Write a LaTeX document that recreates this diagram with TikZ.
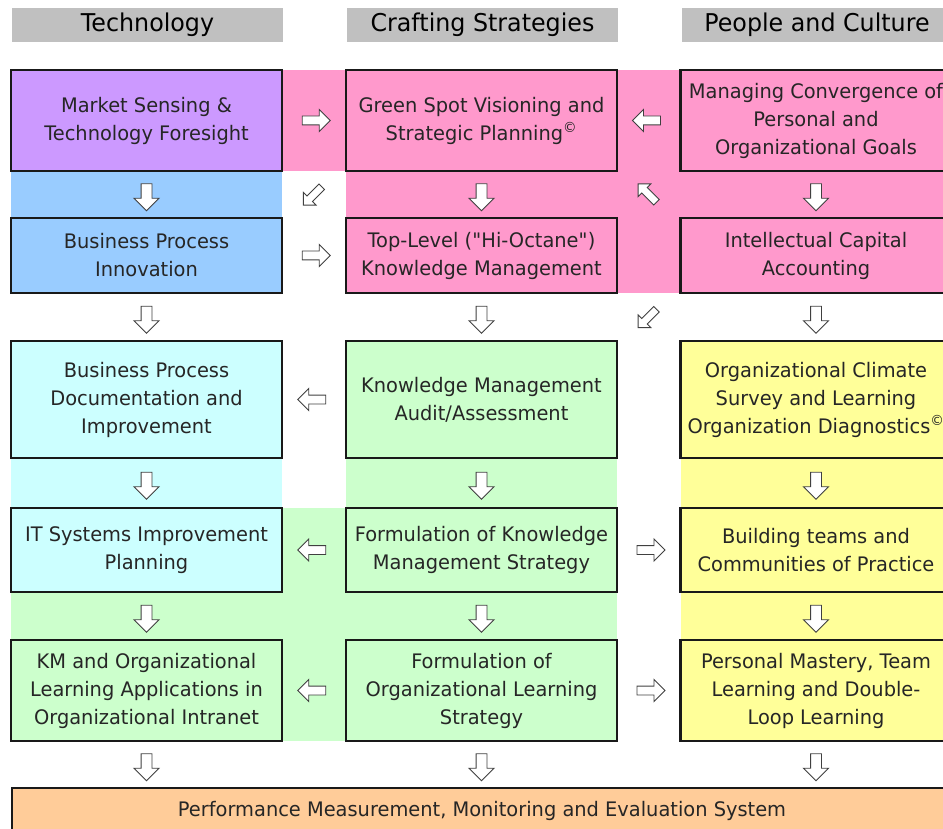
\documentclass[tikz,border=0pt]{standalone}
\usepackage{fontspec}
\setmainfont{DejaVu Sans}[FakeStretch=0.97]
\usetikzlibrary{shapes.arrows,calc}

\definecolor{pinkbg}{HTML}{FF99CC}
\definecolor{purplebg}{HTML}{CC99FF}
\definecolor{bluebg}{HTML}{99CCFF}
\definecolor{cyanbg}{HTML}{CCFFFF}
\definecolor{greenbg}{HTML}{CCFFCC}
\definecolor{yellowbg}{HTML}{FFFF99}
\definecolor{orangebg}{HTML}{FFCC99}
\definecolor{headgray}{HTML}{C0C0C0}
% straight double quote, kept out of the tex-text mapping
\newcommand\straightq{\XeTeXglyph\XeTeXcharglyph"22\relax}

\begin{document}
\begin{tikzpicture}[x=1pt, y=-1pt,
	box/.style={draw=black!90, line width=2.5pt, minimum width=271pt, inner sep=2pt, align=center, text=black!85, font=\fontsize{20}{28}\selectfont},
	head/.style={fill=headgray, minimum width=271pt, minimum height=34pt, inner sep=0pt, font=\fontsize{24.5}{28}\selectfont},
	varr/.style={single arrow, draw=black!75, fill=white, line width=0.9pt, inner sep=0pt, inner ysep=5pt, single arrow head extend=7pt, minimum height=27pt, rotate=-90},
	harr/.style={single arrow, draw=black!75, fill=white, line width=0.9pt, inner sep=0pt, inner ysep=4pt, single arrow head extend=6.5pt, minimum height=28pt},
	darr/.style={single arrow, draw=black!75, fill=white, line width=0.9pt, inner sep=0pt, inner ysep=3.5pt, single arrow head extend=5pt, minimum height=26pt}]
			\path[use as bounding box, clip] (0,0) rectangle (943,829);

			% coloured bands behind the boxes
			\fill[pinkbg] (346,70) rectangle (960,293);
			\fill[pinkbg] (282,70) rectangle (346,171);
			\fill[bluebg] (11,171) rectangle (282,218);
			\fill[cyanbg] (11,458) rectangle (282,508);
			\fill[greenbg] (346,341) rectangle (617,741);
			\fill[greenbg] (282,508) rectangle (346,741);
			\fill[greenbg] (11,592) rectangle (282,640);
			\fill[yellowbg] (681,341) rectangle (960,741);

			\node (h1) [head] at (147.5,25) {Technology};
			\node (h2) [head] at (482.5,25) {Crafting Strategies};
			\node (h3) [head] at (817,25) {People and Culture};

			\node (t1) [box, fill=purplebg, minimum height=101pt] at (146.5,120.5) {Market Sensing \&\\Technology Foresight};
			\node (t2) [box, fill=bluebg, minimum height=75pt] at (146.5,255.5) {Business Process\\Innovation};
			\node (t3) [box, fill=cyanbg, minimum height=117pt] at (146.5,399.5) {Business Process\\Documentation and\\Improvement};
			\node (t4) [box, fill=cyanbg, minimum height=84pt] at (146.5,550) {IT Systems Improvement\\Planning};
			\node (t5) [box, fill=greenbg, minimum height=101pt] at (146.5,690.5) {KM and Organizational\\Learning Applications in\\Organizational Intranet};

			\node (s1) [box, fill=pinkbg, minimum height=101pt] at (481.5,120.5) {Green Spot Visioning and\\Strategic Planning\textsuperscript{\textcopyright}};
			\node (s2) [box, fill=pinkbg, minimum height=75pt] at (481.5,255.5) {Top-Level (\straightq Hi-Octane\straightq)\\Knowledge Management};
			\node (s3) [box, fill=greenbg, minimum height=117pt] at (481.5,399.5) {Knowledge Management\\Audit/Assessment};
			\node (s4) [box, fill=greenbg, minimum height=84pt] at (481.5,550) {Formulation of Knowledge\\Management Strategy};
			\node (s5) [box, fill=greenbg, minimum height=101pt] at (481.5,690.5) {Formulation of\\Organizational Learning\\Strategy};

			\node (p1) [box, fill=pinkbg, minimum height=101pt] at (816,120.5) {Managing Convergence of\\Personal and\\Organizational Goals};
			\node (p2) [box, fill=pinkbg, minimum height=75pt] at (816,255.5) {Intellectual Capital\\Accounting};
			\node (p3) [box, fill=yellowbg, minimum height=117pt] at (816,399.5) {Organizational Climate\\Survey and Learning\\Organization Diagnostics\textsuperscript{\textcopyright}};
			\node (p4) [box, fill=yellowbg, minimum height=84pt] at (816,550) {Building teams and\\Communities of Practice};
			\node (p5) [box, fill=yellowbg, minimum height=101pt] at (816,690.5) {Personal Mastery, Team\\Learning and Double-\\Loop Learning};

			\node (pm) [box, fill=orangebg, minimum width=940pt, minimum height=46pt] at (482,811) {Performance Measurement, Monitoring and Evaluation System};

			% downward arrows
			\node (a1) [varr] at ($(t1.south)!0.5!(t2.north)$) {};
			\node (a2) [varr] at ($(t2.south)!0.5!(t3.north)$) {};
			\node (a3) [varr] at ($(t3.south)!0.5!(t4.north)$) {};
			\node (a4) [varr] at ($(t4.south)!0.5!(t5.north)$) {};
			\node (a5) [varr] at ($(t5.south)!0.5!(t5.south|-pm.north)$) {};
			\node (b1) [varr] at ($(s1.south)!0.5!(s2.north)$) {};
			\node (b2) [varr] at ($(s2.south)!0.5!(s3.north)$) {};
			\node (b3) [varr] at ($(s3.south)!0.5!(s4.north)$) {};
			\node (b4) [varr] at ($(s4.south)!0.5!(s5.north)$) {};
			\node (b5) [varr] at ($(s5.south)!0.5!(s5.south|-pm.north)$) {};
			\node (c1) [varr] at ($(p1.south)!0.5!(p2.north)$) {};
			\node (c2) [varr] at ($(p2.south)!0.5!(p3.north)$) {};
			\node (c3) [varr] at ($(p3.south)!0.5!(p4.north)$) {};
			\node (c4) [varr] at ($(p4.south)!0.5!(p5.north)$) {};
			\node (c5) [varr] at ($(p5.south)!0.5!(p5.south|-pm.north)$) {};

			% sideways arrows
			\node (r1) [harr] at ($(t1.east)!0.5!(s1.west)$) {};
			\node (l1) [harr, rotate=180] at ($(s1.east)!0.5!(p1.west)$) {};
			\node (r2) [harr] at ($(t2.east)!0.5!(s2.west)$) {};
			\node (l3) [harr, rotate=180] at ($(t3.east)!0.5!(s3.west)$) {};
			\node (l4) [harr, rotate=180] at ($(t4.east)!0.5!(s4.west)$) {};
			\node (r4) [harr] at ($(s4.east)!0.5!(p4.west)$) {};
			\node (l5) [harr, rotate=180] at ($(t5.east)!0.5!(s5.west)$) {};
			\node (r5) [harr] at ($(s5.east)!0.5!(p5.west)$) {};

			% slanted arrows
			\node (d1) [darr, rotate=225] at ($(t1.south east)!0.5!(s2.north west)$) {};
			\node (d2) [darr, rotate=135] at ($(s1.south east)!0.5!(p2.north west)$) {};
			\node (d3) [darr, rotate=225] at ($(s2.south east)!0.5!(p3.north west)$) {};

		\end{tikzpicture}
\end{document}
